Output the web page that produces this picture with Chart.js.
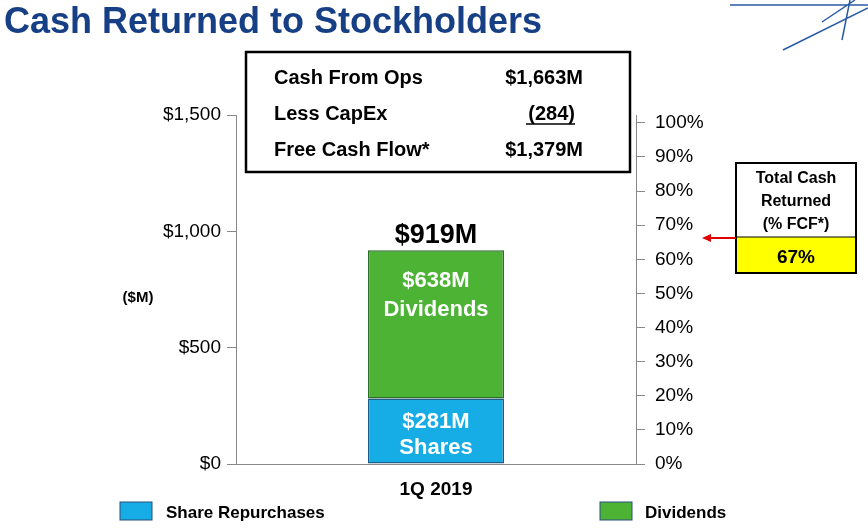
<!DOCTYPE html>
<html>
<head>
<meta charset="utf-8">
<script src="https://cdn.jsdelivr.net/npm/chart.js@4"></script>
<style>
  body { margin: 0; background: #fff; }
  #wrap { width: 868px; height: 531px; }
</style>
</head>
<body>
<div id="wrap"><canvas id="myChart" width="868" height="531"></canvas></div>
<script>
const labels = ["1Q 2019"];
const shares = [281];
const dividends = [638];
const blue = "#16ace6";
const green = "#4cb334";
const FONT = "'Liberation Sans', Arial, sans-serif";

// title, box, callout, legend and bar labels
const decor = {
  id: "decor",
  afterDraw(chart) {
    const c = chart.ctx;
    const f = FONT;
    c.save();
    c.fillStyle = "#173f86";
    c.font = "bold 36px " + f;
    c.textBaseline = "alphabetic";
    c.fillText("Cash Returned to Stockholders", 4, 33);
    // logo strokes
    c.strokeStyle = "#2a5aa6";
    c.lineWidth = 1.5;
    c.beginPath();
    c.moveTo(730, 5); c.lineTo(868, 5);
    c.moveTo(783, 50); c.lineTo(868, 8);
    c.moveTo(822, 22); c.lineTo(855, 0);
    c.moveTo(842, 40); c.lineTo(850, 0);
    c.stroke();

    // cash flow box
    c.strokeStyle = "#000"; c.lineWidth = 2.5;
    c.strokeRect(246, 52, 384, 120);
    c.fillStyle = "#000"; c.font = "bold 20px " + f;
    c.textAlign = "left";
    c.fillText("Cash From Ops", 274, 84);
    c.fillText("Less CapEx", 274, 120);
    c.fillText("Free Cash Flow*", 274, 156);
    c.textAlign = "right";
    c.fillText("$1,663M", 583, 84);
    c.fillText("(284)", 575, 120);
    c.fillText("$1,379M", 583, 156);
    c.lineWidth = 1.5;
    c.beginPath(); c.moveTo(526, 124); c.lineTo(575, 124); c.stroke();

    // callout
    c.fillStyle = "#ffff00";
    c.fillRect(736, 237, 120, 36);
    c.strokeStyle = "#000"; c.lineWidth = 2;
    c.strokeRect(736, 163, 120, 110);
    c.lineWidth = 1;
    c.beginPath(); c.moveTo(736, 237); c.lineTo(856, 237); c.stroke();
    c.fillStyle = "#000"; c.textAlign = "center";
    c.font = "bold 16px " + f;
    c.fillText("Total Cash", 796, 183);
    c.fillText("Returned", 796, 206);
    c.fillText("(% FCF*)", 796, 229);
    c.font = "bold 19px " + f;
    c.fillText("67%", 796, 263);
    c.strokeStyle = "#e00000"; c.lineWidth = 2;
    c.beginPath(); c.moveTo(736, 238); c.lineTo(708, 238); c.stroke();
    c.fillStyle = "#e00000";
    c.beginPath(); c.moveTo(702, 238); c.lineTo(711, 234); c.lineTo(711, 242); c.fill();

    // ($M)
    c.fillStyle = "#000"; c.font = "bold 15px " + f;
    c.fillText("($M)", 138, 302);

    // bar labels
    const y = chart.scales.y;
    const meta = chart.getDatasetMeta(0);
    const x = meta.data[0].x;
    c.font = "bold 22px " + f;
    c.fillStyle = "#fff";
    c.fillText("$" + shares[0] + "M", x, y.getPixelForValue(shares[0] * 0.5) - 3);
    c.fillText("Shares", x, y.getPixelForValue(shares[0] * 0.5) + 23);
    c.fillText("$" + dividends[0] + "M", x, y.getPixelForValue(shares[0] + dividends[0] * 0.8) + 7);
    c.fillText("Dividends", x, y.getPixelForValue(shares[0] + dividends[0] * 0.8) + 36);
    c.fillStyle = "#000"; c.font = "bold 27px " + f;
    c.fillText("$" + (shares[0] + dividends[0]) + "M", x, y.getPixelForValue(shares[0] + dividends[0]) - 7);

    // legend
    const sw = (lx, col) => {
      c.fillStyle = col; c.fillRect(lx, 502, 32, 18);
      c.strokeStyle = "#2a4f80"; c.lineWidth = 1; c.strokeRect(lx, 502, 32, 18);
    };
    sw(120, blue); sw(600, green);
    c.fillStyle = "#000"; c.textAlign = "left"; c.font = "bold 17px " + f;
    c.fillText("Share Repurchases", 166, 518);
    c.fillText("Dividends", 645, 518);
    c.restore();
  }
};

const axisGrid = { display: true, drawOnChartArea: false, drawTicks: true, tickLength: 9, color: "#888" };

function myLoadFunction() {
  const ctx = document.getElementById("myChart").getContext("2d");
  var myChartConfig = {
    type: "bar",
    data: {
      labels: labels,
      datasets: [
        { label: "Share Repurchases", data: shares, backgroundColor: blue, borderColor: "#1d5c86", borderWidth: 1.5, borderSkipped: false },
        { label: "Dividends", data: dividends, backgroundColor: green, borderColor: "#2c6b2a", borderWidth: 1.5, borderSkipped: false },
      ],
    },
    options: {
      responsive: false,
      animation: false,
      layout: { padding: { top: 115, bottom: 27, left: 0, right: 132 } },
      plugins: { legend: { display: false }, tooltip: { enabled: false } },
      datasets: { bar: { categoryPercentage: 1, barPercentage: 0.34 } },
      scales: {
        x: {
          stacked: true,
          grid: { display: false },
          border: { color: "#888" },
          ticks: { color: "#000", font: { family: FONT, size: 19, weight: "bold" }, padding: 6 },
          afterFit(s) { s.height = 40; },
        },
        y: {
          stacked: true,
          min: 0, max: 1500,
          grid: axisGrid,
          border: { color: "#888" },
          ticks: { stepSize: 500, color: "#000", font: { family: FONT, size: 19 }, padding: 6,
            callback: (v) => "$" + v.toLocaleString("en-US") },
          afterFit(s) { s.width = 236; },
        },
        y2: {
          position: "right",
          min: 0, max: 102.3,
          grid: axisGrid,
          border: { color: "#888" },
          afterBuildTicks(s) {
            s.ticks = [0, 10, 20, 30, 40, 50, 60, 70, 80, 90, 100].map((v) => ({ value: v }));
          },
          ticks: { color: "#000", font: { family: FONT, size: 19 }, padding: 10,
            callback: (v) => v + "%" },
          afterFit(s) { s.width = 100; },
        },
      },
    },
    plugins: [decor],
  };
  const myChart = new Chart(ctx, myChartConfig);
}

document.addEventListener("DOMContentLoaded", myLoadFunction);
</script>
</body>
</html>
